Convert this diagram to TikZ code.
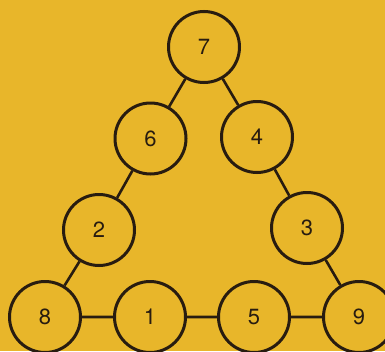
\documentclass[tikz,border=0pt]{standalone}
\usepackage{fontspec}
\setmainfont{TeX Gyre Heros}
\definecolor{bg}{RGB}{232,182,42}
\definecolor{ink}{RGB}{40,28,16}
\begin{document}
\begin{tikzpicture}[x=1pt,y=-1pt,
  num/.style={circle,draw=ink,line width=3pt,minimum size=71pt,inner sep=0pt,font=\fontsize{22}{22}\selectfont,text=ink},
  link/.style={draw=ink,line width=2.6pt}]
\fill[bg] (0,0) rectangle (385,351);
\useasboundingbox (0,0) rectangle (385,351);
\node[num] (n7) at (204,47) {7};
\node[num] (n6) at (150.5,138.5) {6};
\node[num] (n4) at (257,137) {4};
\node[num] (n2) at (99,230) {2};
\node[num] (n3) at (307,228) {3};
\node[num] (n8) at (45,317) {8};
\node[num] (n1) at (150,317) {1};
\node[num] (n5) at (254,317) {5};
\node[num] (n9) at (359,317) {9};
\path[link] (n7) -- (n6) (n7) -- (n4) (n6) -- (n2) (n4) -- (n3)
  (n2) -- (n8) (n3) -- (n9) (n8) -- (n1) (n1) -- (n5) (n5) -- (n9);
\end{tikzpicture}
\end{document}
